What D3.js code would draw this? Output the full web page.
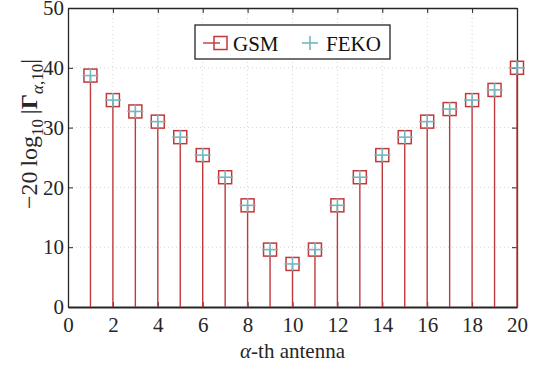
<!DOCTYPE html>
<html>
<head>
<meta charset="utf-8">
<script src="https://cdn.jsdelivr.net/npm/d3@7"></script>
<style>
  body { margin: 0; background: #fff; }
  svg { font-family: "Liberation Serif", "Times New Roman", serif; }
</style>
</head>
<body>
<div id="chart"></div>
<script>
// antenna index and return loss values
const antennas = d3.range(1, 21);
const gsm  = [38.7, 34.6, 32.7, 31.0, 28.4, 25.4, 21.7, 17.0, 9.6, 7.2,
              9.6, 17.0, 21.7, 25.4, 28.4, 31.0, 33.1, 34.6, 36.3, 40.0];
const feko = [38.7, 34.6, 32.7, 31.0, 28.4, 25.4, 21.7, 17.0, 9.6, 7.2,
              9.6, 17.0, 21.7, 25.4, 28.4, 31.0, 33.1, 34.6, 36.3, 40.0];
const xTicks = [0, 2, 4, 6, 8, 10, 12, 14, 16, 18, 20];
const yTicks = [0, 10, 20, 30, 40, 50];

const width = 540, height = 368;
const margin = { left: 68, right: 23, top: 8, bottom: 61 };

const svg = d3.select("#chart").append("svg")
    .attr("width", width)
    .attr("height", height);

const x = d3.scaleLinear().domain([0, 20]).range([margin.left, width - margin.right]);
const y = d3.scaleLinear().domain([0, 50]).range([height - margin.bottom, margin.top]);

const red = "#c0393b";
const cyan = "#72b8be";

// grid
svg.append("g").selectAll("line.gx")
    .data(xTicks.slice(1, -1))
    .join("line")
    .attr("x1", d => x(d)).attr("x2", d => x(d))
    .attr("y1", y(0)).attr("y2", y(50))
    .attr("stroke", "#c8c8c8").attr("stroke-width", 0.8)
    .attr("stroke-dasharray", "1,3");
svg.append("g").selectAll("line.gy")
    .data(yTicks.slice(1, -1))
    .join("line")
    .attr("x1", x(0)).attr("x2", x(20))
    .attr("y1", d => y(d)).attr("y2", d => y(d))
    .attr("stroke", "#c8c8c8").attr("stroke-width", 0.8)
    .attr("stroke-dasharray", "1,3");

// axes (ticks inward, mirrored)
const xAxis = svg.append("g")
    .attr("transform", `translate(0,${y(0)})`)
    .call(d3.axisBottom(x).tickValues(xTicks).tickSizeInner(-5).tickSizeOuter(0).tickPadding(10));
const xTop = svg.append("g")
    .attr("transform", `translate(0,${y(50)})`)
    .call(d3.axisTop(x).tickValues(xTicks).tickSizeInner(-5).tickSizeOuter(0).tickFormat(""));
const yAxis = svg.append("g")
    .attr("transform", `translate(${x(0)},0)`)
    .call(d3.axisLeft(y).tickValues(yTicks).tickSizeInner(-5).tickSizeOuter(0).tickPadding(4));
const yRight = svg.append("g")
    .attr("transform", `translate(${x(20)},0)`)
    .call(d3.axisRight(y).tickValues(yTicks).tickSizeInner(-5).tickSizeOuter(0).tickFormat(""));

[xAxis, xTop, yAxis, yRight].forEach(g => {
    g.select(".domain").attr("stroke", "#262626").attr("stroke-width", 1.3);
    g.selectAll(".tick line").attr("stroke", "#262626").attr("stroke-width", 1);
    g.selectAll("text")
        .attr("font-family", "Liberation Serif")
        .attr("font-size", 21)
        .attr("fill", "#262626");
});
xAxis.select(".domain").attr("stroke-width", 2);

// stems
svg.append("g").selectAll("line.stem")
    .data(antennas)
    .join("line")
    .attr("x1", d => x(d)).attr("x2", d => x(d))
    .attr("y1", y(0)).attr("y2", (d, i) => y(gsm[i]))
    .attr("stroke", red).attr("stroke-width", 1.4);

// GSM squares
const sq = 13;
svg.append("g").selectAll("rect")
    .data(antennas)
    .join("rect")
    .attr("x", d => x(d) - sq / 2)
    .attr("y", (d, i) => y(gsm[i]) - sq / 2)
    .attr("width", sq).attr("height", sq)
    .attr("fill", "none").attr("stroke", red).attr("stroke-width", 1.5);

// FEKO plus markers
const pl = 8;
const plus = svg.append("g").selectAll("g")
    .data(antennas)
    .join("g")
    .attr("transform", (d, i) => `translate(${x(d)},${y(feko[i])})`);
plus.append("line").attr("x1", -pl).attr("x2", pl)
    .attr("stroke", cyan).attr("stroke-width", 1.6);
plus.append("line").attr("y1", -pl + 1).attr("y2", pl - 1)
    .attr("stroke", cyan).attr("stroke-width", 1.6);

// legend
const leg = svg.append("g");
leg.append("rect")
    .attr("x", 195).attr("y", 25).attr("width", 195).attr("height", 34)
    .attr("fill", "#fff").attr("stroke", "#262626").attr("stroke-width", 1.3);
leg.append("line").attr("x1", 203).attr("x2", 220).attr("y1", 43).attr("y2", 43)
    .attr("stroke", red).attr("stroke-width", 1.4);
leg.append("rect").attr("x", 214).attr("y", 36.5).attr("width", sq).attr("height", sq)
    .attr("fill", "none").attr("stroke", red).attr("stroke-width", 1.5);
leg.append("text").attr("x", 233).attr("y", 51)
    .attr("font-size", 21).attr("fill", "#111").text("GSM");
leg.append("line").attr("x1", 302).attr("x2", 318).attr("y1", 43).attr("y2", 43)
    .attr("stroke", cyan).attr("stroke-width", 1.6);
leg.append("line").attr("x1", 310).attr("x2", 310).attr("y1", 36).attr("y2", 50)
    .attr("stroke", cyan).attr("stroke-width", 1.6);
leg.append("text").attr("x", 326).attr("y", 51)
    .attr("font-size", 21).attr("fill", "#111").text("FEKO");

// x label
const xl = svg.append("text")
    .attr("x", x(10)).attr("y", 358)
    .attr("text-anchor", "middle")
    .attr("font-size", 21).attr("fill", "#262626");
xl.append("tspan").attr("font-style", "italic").text("α");
xl.append("tspan").text("-th antenna");

// y label
const yl = svg.append("text")
    .attr("transform", `translate(37,134) rotate(-90)`)
    .attr("text-anchor", "middle")
    .attr("font-size", 24).attr("fill", "#262626");
yl.append("tspan").text("−20\u2009log");
yl.append("tspan").attr("font-size", 17).attr("dy", 6).text("10");
yl.append("tspan").attr("dy", -6).text("\u2009|");
yl.append("tspan").attr("font-weight", "bold").text("Γ");
yl.append("tspan").attr("font-size", 17).attr("dy", 6).attr("font-style", "italic").text("α");
yl.append("tspan").attr("font-size", 17).text(",10");
yl.append("tspan").attr("dy", -6).text("|");
</script>
</body>
</html>
